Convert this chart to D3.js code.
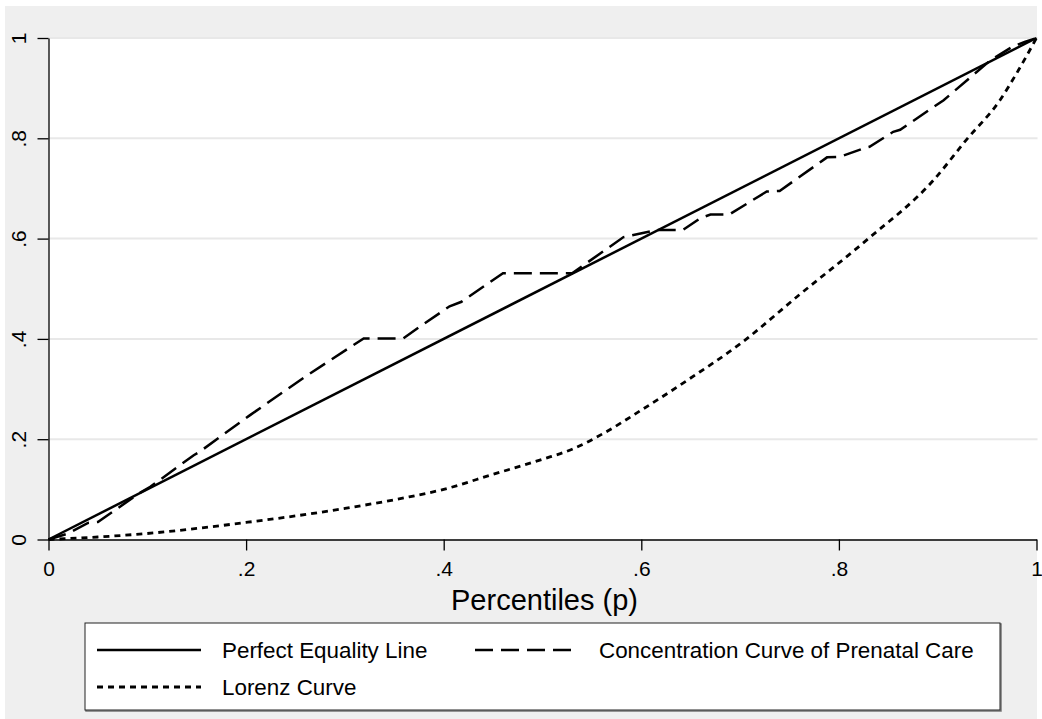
<!DOCTYPE html>
<html>
<head>
<meta charset="utf-8">
<script src="https://cdn.jsdelivr.net/npm/d3@7"></script>
<style>
html, body { margin: 0; padding: 0; background: #ffffff; }
svg { display: block; }
text { font-family: "Liberation Sans", Arial, sans-serif; fill: #000; }
</style>
</head>
<body>
<svg id="chart" width="1042" height="719"></svg>
<script>
// ---- data ----
const yTicks = [0, 0.2, 0.4, 0.6, 0.8, 1];
const xTicks = [0, 0.2, 0.4, 0.6, 0.8, 1];
const tickLabels = ["0", ".2", ".4", ".6", ".8", "1"];
const xTitle = "Percentiles (p)";
const seriesNames = ["Perfect Equality Line", "Concentration Curve of Prenatal Care", "Lorenz Curve"];

const equalityX = [0, 1];
const equalityY = [0, 1];

const concX = [0, 0.02, 0.04, 0.05, 0.07, 0.09, 0.103, 0.147, 0.153, 0.204, 0.26, 0.319, 0.359, 0.38, 0.406, 0.418, 0.46, 0.53, 0.582, 0.616, 0.642, 0.66, 0.67, 0.689, 0.727, 0.74, 0.788, 0.801, 0.825, 0.831, 0.855, 0.862, 0.906, 0.953, 0.976, 0.988, 1];
const concY = [0, 0.012, 0.033, 0.035, 0.062, 0.09, 0.105, 0.168, 0.175, 0.248, 0.325, 0.401, 0.401, 0.43, 0.465, 0.474, 0.531, 0.531, 0.603, 0.617, 0.617, 0.641, 0.648, 0.648, 0.694, 0.695, 0.762, 0.763, 0.78, 0.783, 0.813, 0.817, 0.876, 0.955, 0.983, 0.992, 1];

const lorenzX = [0, 0.05, 0.1, 0.15, 0.2, 0.25, 0.3, 0.36, 0.4, 0.45, 0.5, 0.53, 0.562, 0.6, 0.65, 0.7, 0.76, 0.828, 0.896, 0.929, 0.963, 0.98, 1];
const lorenzY = [0, 0.005, 0.012, 0.022, 0.034, 0.047, 0.062, 0.083, 0.1, 0.13, 0.16, 0.18, 0.212, 0.258, 0.322, 0.39, 0.488, 0.597, 0.717, 0.797, 0.876, 0.93, 1];

// ---- layout ----
const svg = d3.select("#chart");
const plot = { left: 48.5, right: 1036.5, top: 38, bottom: 539.5 };

svg.append("rect").attr("x", 5).attr("y", 6).attr("width", 1032).attr("height", 713).attr("fill", "#efefef");
svg.append("rect").attr("x", plot.left).attr("y", plot.top).attr("width", plot.right - plot.left + 1).attr("height", plot.bottom - plot.top).attr("fill", "#ffffff");

const x = d3.scaleLinear().domain([0, 1]).range([plot.left, plot.right]);
const y = d3.scaleLinear().domain([0, 1]).range([plot.bottom, plot.top]);

// grid
svg.append("g").selectAll("line").data(yTicks.filter(d => d > 0)).join("line")
  .attr("x1", plot.left).attr("x2", plot.right + 1)
  .attr("y1", d => y(d)).attr("y2", d => y(d))
  .attr("stroke", "#e8e8e8").attr("stroke-width", 2);

const fmt = d => tickLabels[xTicks.indexOf(d)];

// y axis
const gy = svg.append("g").attr("transform", `translate(${plot.left},0)`)
  .call(d3.axisLeft(y).tickValues(yTicks).tickFormat(fmt).tickSize(11).tickSizeOuter(0));
gy.select(".domain").attr("stroke", "#000").attr("stroke-width", 1.3);
gy.selectAll(".tick line").attr("stroke", "#000").attr("stroke-width", 1.3);
gy.selectAll(".tick text")
  .attr("x", null).attr("dy", null)
  .attr("transform", "translate(-23,0) rotate(-90)")
  .attr("text-anchor", "middle")
  .style("font-size", "21px");

// x axis
const gx = svg.append("g").attr("transform", `translate(0,${plot.bottom})`)
  .call(d3.axisBottom(x).tickValues(xTicks).tickFormat(fmt).tickSize(11).tickSizeOuter(0));
gx.select(".domain").attr("stroke", "#000").attr("stroke-width", 1.3);
gx.selectAll(".tick line").attr("stroke", "#000").attr("stroke-width", 1.3);
gx.selectAll(".tick text").attr("y", 36).attr("dy", null)
  .style("font-size", "21px");

svg.append("text").attr("x", (plot.left + plot.right) / 2 + 2).attr("y", 610)
  .attr("text-anchor", "middle").style("font-size", "29px").text(xTitle);

// lines
const line = d3.line().x(d => x(d[0])).y(d => y(d[1]));
const smooth = d3.line().x(d => x(d[0])).y(d => y(d[1])).curve(d3.curveMonotoneX);
const mk = (xs, ys) => xs.map((v, i) => [v, ys[i]]);

const g = svg.append("g");
g.append("path").datum(mk(lorenzX, lorenzY)).attr("d", smooth)
  .attr("fill", "none").attr("stroke", "#000").attr("stroke-width", 2.8).attr("stroke-dasharray", "6,5");
g.append("path").datum(mk(concX, concY)).attr("d", line)
  .attr("fill", "none").attr("stroke", "#000").attr("stroke-width", 2.5).attr("stroke-dasharray", "18,8");
g.append("path").datum(mk(equalityX, equalityY)).attr("d", line)
  .attr("fill", "none").attr("stroke", "#000").attr("stroke-width", 2.5);

// legend
const leg = svg.append("g");
leg.append("rect").attr("x", 86).attr("y", 624).attr("width", 915).attr("height", 87)
  .attr("fill", "none").attr("stroke", "#777").attr("stroke-width", 1.5);
leg.append("rect").attr("x", 85).attr("y", 623).attr("width", 915).attr("height", 87)
  .attr("fill", "#fff").attr("stroke", "#222").attr("stroke-width", 1);

const items = [
  { name: seriesNames[0], dash: null, w: 2.5, lx: 97, tx: 222, row: 0 },
  { name: seriesNames[1], dash: "18,8", w: 2.5, lx: 475, tx: 599, row: 0 },
  { name: seriesNames[2], dash: "6,5", w: 2.8, lx: 97, tx: 222, row: 1 }
];
const rowY = [650, 687];
items.forEach(it => {
  const yy = rowY[it.row];
  leg.append("line").attr("x1", it.lx).attr("x2", it.lx + 104).attr("y1", yy).attr("y2", yy)
    .attr("stroke", "#000").attr("stroke-width", it.w).attr("stroke-dasharray", it.dash);
  leg.append("text").attr("x", it.tx).attr("y", yy + 8)
    .style("font-size", "22.4px").text(it.name);
});
</script>
</body>
</html>
